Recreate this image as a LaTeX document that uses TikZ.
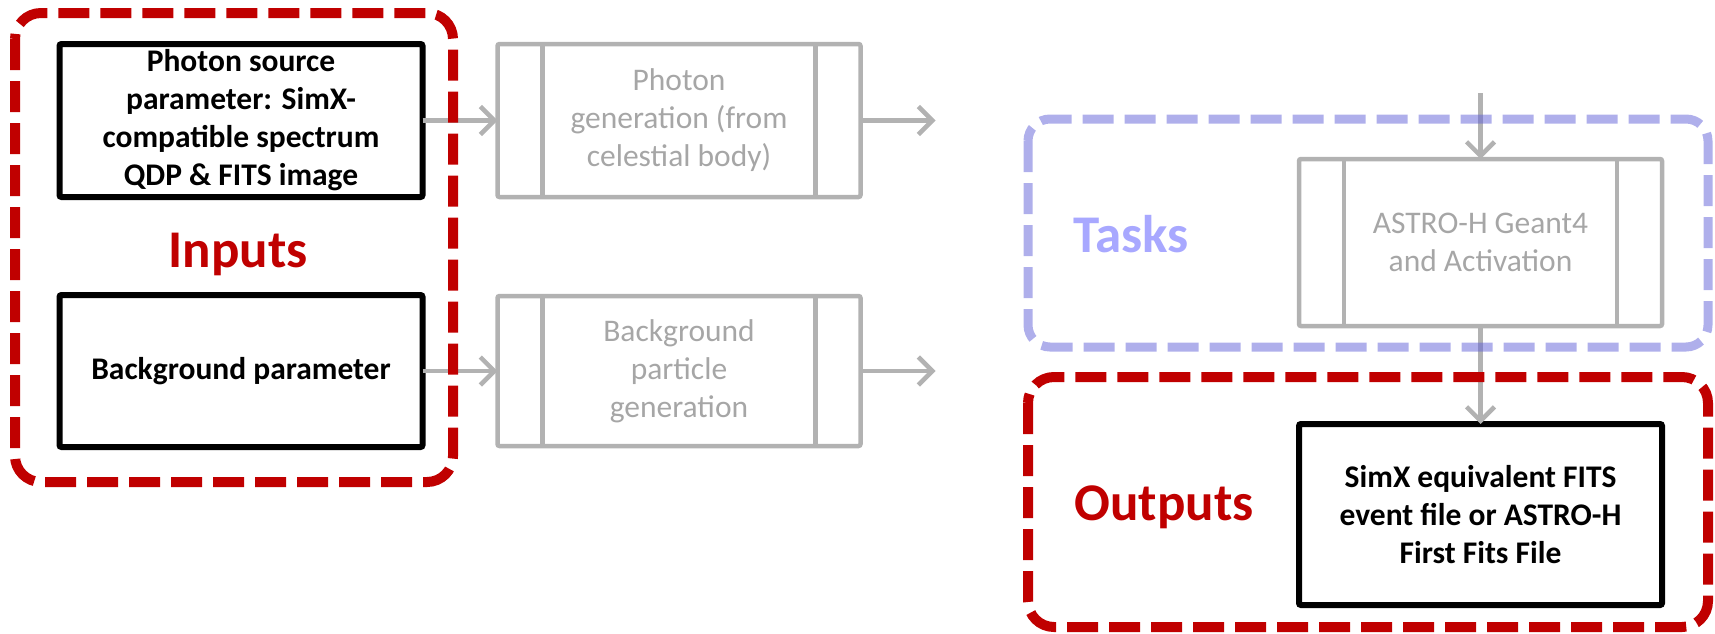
\documentclass[tikz,border=0pt]{standalone}
\usepackage{fontspec}
\setmainfont{Carlito}
\usetikzlibrary{arrows.meta,positioning}
\definecolor{framered}{RGB}{192,0,0}
\definecolor{taskblue}{RGB}{96,96,216}
\definecolor{tasktext}{RGB}{168,168,255}
\definecolor{linegray}{RGB}{178,178,178}
\definecolor{textgray}{RGB}{166,166,166}
\newcommand{\boxfont}{\fontsize{31.5}{38}\selectfont}
\newcommand{\labelfont}{\fontsize{53}{60}\selectfont\bfseries}

\begin{document}
\begin{tikzpicture}[x=1pt,y=-1pt,>={Straight Barb[length=14pt,width=28pt]},node distance=75pt,
  inbox/.style={draw,line width=6pt,rounded corners=2pt,minimum width=363pt,inner sep=0pt,outer sep=0pt,align=center,font=\boxfont\bfseries},
  procbox/.style={draw=linegray,line width=4.5pt,rounded corners=2pt,minimum width=363pt,inner sep=0pt,outer sep=0pt,align=center,font=\boxfont,text=textgray},
  arr/.style={->,draw=linegray,line width=4.5pt},
  redgroup/.style={draw=framered,line width=10pt,dash pattern=on 31pt off 11pt,rounded corners=26pt},
  bluegroup/.style={draw=taskblue,draw opacity=0.5,line width=9pt,dash pattern=on 31pt off 11pt,rounded corners=22pt},
  lbl/.style={anchor=base,font=\labelfont}]
\useasboundingbox (0,0) rectangle (1715,633);
% inputs
\node[inbox,minimum height=153pt] (src) at (241,120.5) {Photon source\\parameter: SimX-\\compatible spectrum\\QDP \& FITS image};
\node[inbox,minimum height=152pt,below=98pt of src] (bkg) {Background parameter};
% generators
\node[procbox,minimum height=153pt,right=of src] (phgen) {Photon\\generation (from\\celestial body)};
\node[procbox,minimum height=150pt,right=of bkg] (bggen) {Background\\particle\\generation};
\coordinate[right=75pt of phgen] (phout);
\coordinate[right=75pt of bggen] (bgout);
% simulation and output
\node[procbox,minimum height=167pt] (g4) at (1480.5,242.5) {ASTRO-H Geant4\\and Activation};
\node[inbox,minimum height=181pt,below=98pt of g4] (simx) {SimX equivalent FITS\\event file or ASTRO-H\\First Fits File};
\coordinate[above=66pt of g4] (g4in);
\foreach \p in {phgen,bggen,g4}{
  \draw[linegray,line width=4.5pt] ([xshift=45pt]\p.north west) -- ([xshift=45pt]\p.south west);
  \draw[linegray,line width=4.5pt] ([xshift=-45pt]\p.north east) -- ([xshift=-45pt]\p.south east);
}
\draw[arr] (src) -- (phgen);
\draw[arr] (bkg) -- (bggen);
\draw[arr] (phgen) -- (phout);
\draw[arr] (bggen) -- (bgout);
\draw[arr] (g4in) -- (g4);
\draw[arr] (g4) -- (simx);
% groups
\draw[redgroup] (15,13) rectangle (453,482);
\draw[bluegroup] (1028,119) rectangle (1708,347);
\draw[redgroup] (1028,377) rectangle (1708,627);
\node[lbl,text=framered] (inlbl) at (238,267) {Inputs};
\node[lbl,text=tasktext] (tasklbl) at (1131,252) {Tasks};
\node[lbl,text=framered] (outlbl) at (1164,520) {Outputs};
\end{tikzpicture}
\end{document}
